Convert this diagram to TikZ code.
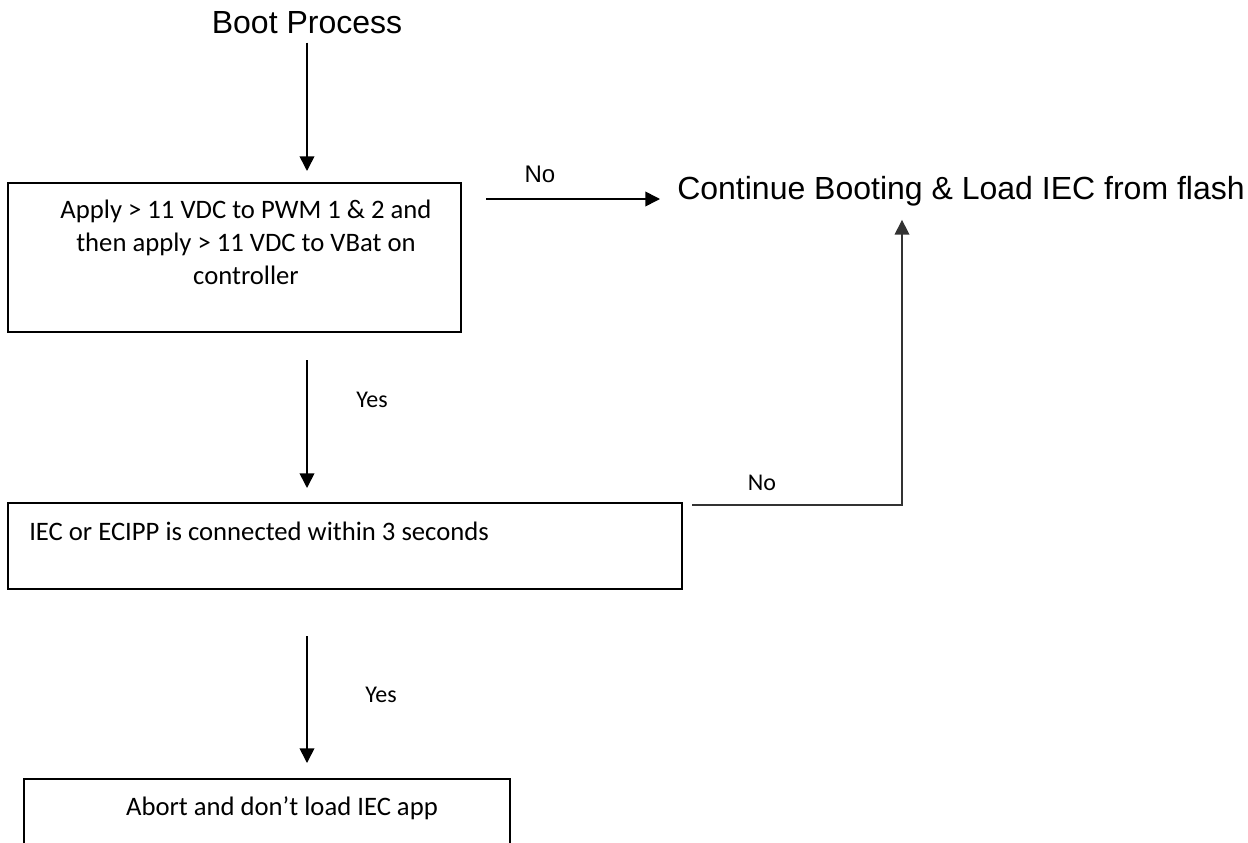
\documentclass[tikz,border=0pt]{standalone}
\usepackage{fontspec}
\setmainfont{Carlito}
\newfontfamily\arialfont{Liberation Sans}
\usetikzlibrary{arrows.meta}
\begin{document}
\begin{tikzpicture}[x=0.75pt,y=-0.75pt,every node/.style={inner sep=0pt},box/.style={draw,line width=1.5pt,rectangle},boxtext/.style={font=\fontsize{20}{24.75}\selectfont,align=center},title/.style={font=\arialfont\fontsize{24}{28}\selectfont},lbl/.style={font=\fontsize{18}{22}\selectfont},arlbl/.style={font=\arialfont\fontsize{18}{22}\selectfont},flow/.style={line width=1.2pt,-{Triangle[width=11pt,length=11pt]}}]
\clip (0,0) rectangle (1248,842);
\fill[white] (0,0) rectangle (1248,842);
\node[title] (boot) at (307,23) {Boot Process};
\node[box,minimum width=339.75pt,minimum height=111.75pt] (apply) at (234.5,257.5) {};
\node[boxtext] (applytext) at (246,242) {Apply > 11 VDC to PWM 1 \& 2 and\\then apply > 11 VDC to VBat on\\controller};
\node[title,anchor=base west] (cont) at (677,199) {Continue Booting \& Load IEC from flash};
\node[box,minimum width=505.5pt,minimum height=64.5pt] (check) at (345,546) {};
\node[boxtext,anchor=west] (checktext) at (29,531) {IEC or ECIPP is connected within 3 seconds};
\node[box,minimum width=364.5pt,minimum height=90pt] (abort) at (267,839) {};
\node[boxtext] (aborttext) at (282,808) {Abort and don’t load IEC app};
\node[arlbl] (no1) at (540,174) {No};
\node[lbl] (no2) at (762,483) {No};
\node[lbl] (yes1) at (372,400) {Yes};
\node[lbl] (yes2) at (381,695) {Yes};
\coordinate (turn) at (902,505);
\draw[flow,shorten <=6.2pt,shorten >=8.25pt] (boot.south) -- (boot.south |- apply.north);
\draw[flow,shorten <=18pt,shorten >=12.75pt] (apply.east |- cont.base) -- (cont.base west);
\draw[flow,shorten <=20.25pt,shorten >=10.5pt] (boot |- apply.south) -- (boot |- check.north);
\draw[flow,line width=1pt,black!80,shorten <=6.75pt,shorten >=10.5pt] (check.east |- turn) -- (turn) -- (turn |- cont.south);
\draw[flow,shorten <=34.5pt,shorten >=11.25pt] (boot |- check.south) -- (boot |- abort.north);
\end{tikzpicture}
\end{document}
